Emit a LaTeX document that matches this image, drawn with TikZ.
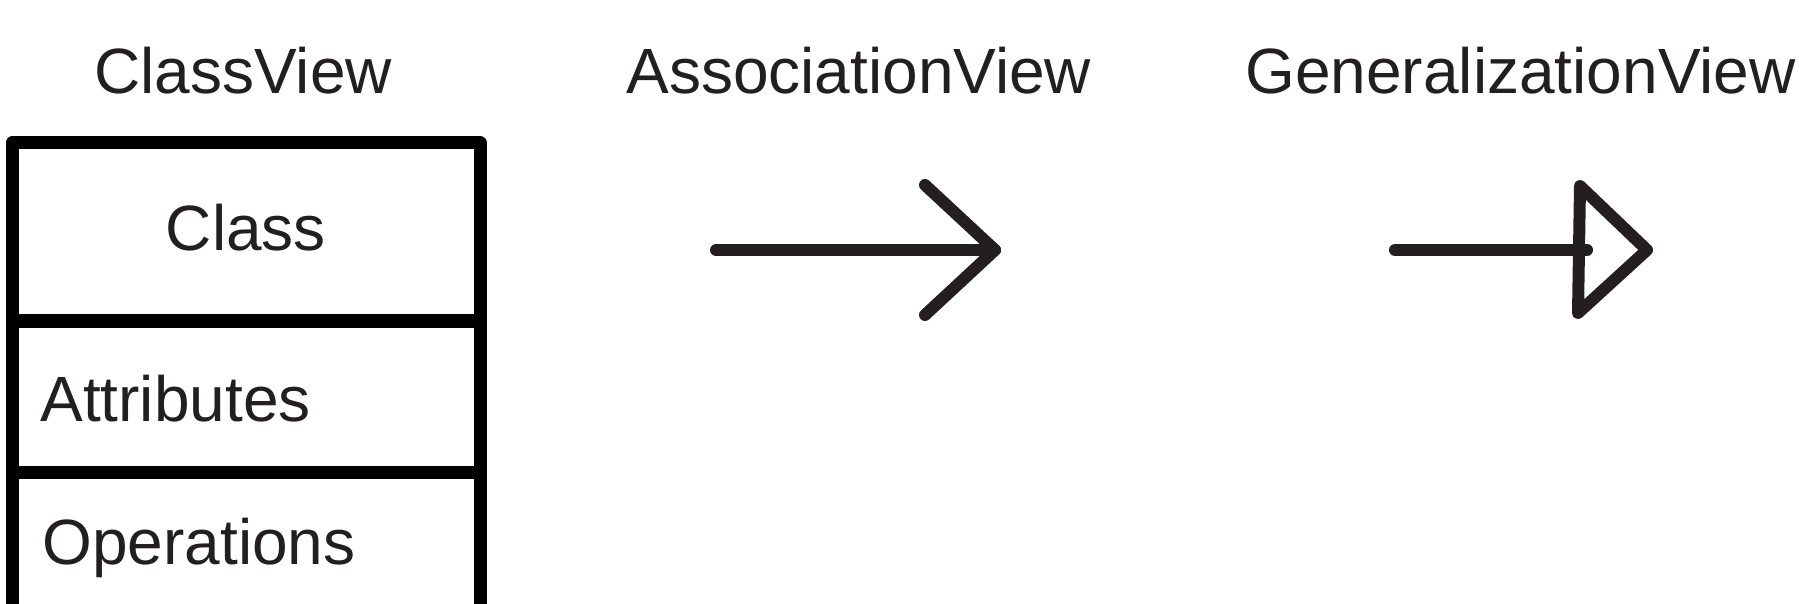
\documentclass[tikz,border=0pt]{standalone}
\usepackage{fontspec}
\setmainfont{Liberation Sans}
\definecolor{ink}{HTML}{231F20}
\begin{document}
\begin{tikzpicture}[x=0.5pt,y=-0.5pt,
  lbl/.style={inner sep=0pt, text=ink, font=\fontsize{32}{38}\selectfont},
  boxline/.style={draw=black, line width=6.5pt, line join=round},
  arr/.style={draw=ink, line width=6pt, line cap=round, line join=round}]
\useasboundingbox (0,0) rectangle (1799,604);
\begin{scope}
\clip (0,0) rectangle (1799,604);
% class box
\coordinate (tl) at (12,143);
\coordinate (tr) at (480,143);
\coordinate (bl) at (12,640);
\coordinate (br) at (480,640);
\coordinate (d1l) at (12,321);
\coordinate (d1r) at (480,321);
\coordinate (d2l) at (12,472);
\coordinate (d2r) at (480,472);
\draw[boxline] (bl) -- (tl) -- (tr) -- (br);
\draw[boxline] (d1l) -- (d1r);
\draw[boxline] (d2l) -- (d2r);
\end{scope}
% titles
\node[lbl, anchor=base west] (t1) at (94,94) {ClassView};
\node[lbl, anchor=base west] (t2) at (626,94) {AssociationView};
\node[lbl, anchor=base west] (t3) at (1245,94) {GeneralizationView};
% box texts
\node[lbl, anchor=base] (cls) at (246,251) {Class};
\node[lbl, anchor=base west] (att) at (40,421) {Attributes};
\node[lbl, anchor=base west] (ops) at (42,564) {Operations};
% association arrow
\coordinate (a1) at (716,250);
\coordinate (a2) at (995,250);
\coordinate (ah1) at (925,185);
\coordinate (ah2) at (925,315);
\draw[arr] (a1) -- (a2);
\draw[arr] (ah1) -- (a2) -- (ah2);
% generalization arrow
\coordinate (g1) at (1395,250);
\coordinate (g2) at (1587,250);
\coordinate (gt) at (1580,186);
\coordinate (gb) at (1578,313);
\coordinate (gp) at (1647,250);
\draw[arr] (g1) -- (g2);
\draw[arr] (gt) -- (gp) -- (gb) -- cycle;
\end{tikzpicture}
\end{document}
